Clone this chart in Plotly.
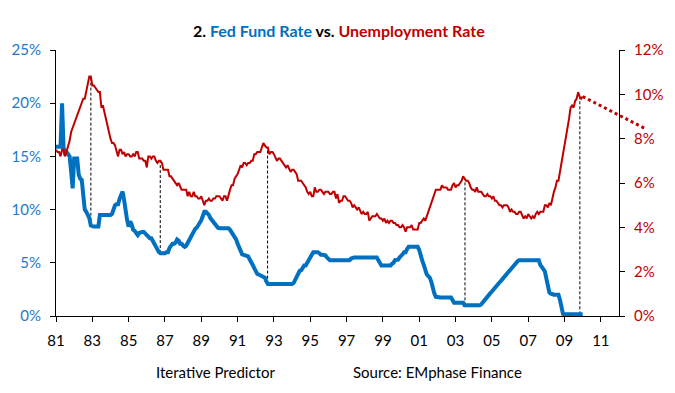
import numpy as np
import plotly.graph_objects as go

FONT = "Lato"
BLUE = "#0070C0"
RED = "#C00000"

# ---- data: monthly, Jan 1981 .. Jan 2010 ----
start_year = 1981
fed_funds = (
    [15.9, 15.9, 15.9, 15.9, 20.0, 15.8, 15.3, 15.4, 15.2, 15.0, 13.6, 12.0] +   # 1981
    [14.8, 14.8, 14.8, 13.3, 12.9, 12.8, 11.7, 10.0, 9.8, 9.5, 9.2, 8.5] +       # 1982
    [8.4, 8.4, 8.4, 8.4, 8.4, 9.5, 9.5, 9.5, 9.5, 9.5, 9.5, 9.5] +               # 1983
    [9.5, 9.6, 10.0, 10.4, 10.5, 10.5, 11.0, 11.5, 11.7, 10.9, 9.8, 9.0] +       # 1984
    [8.4, 8.9, 8.6, 8.1, 8.0, 7.7, 7.6, 7.8, 7.9, 7.9, 7.9, 7.8] +               # 1985
    [7.6, 7.45, 7.3, 7.3, 7.0, 6.8, 6.6, 6.3, 6.0, 5.9, 5.9, 5.9] +              # 1986
    [5.9, 6.0, 6.0, 6.4, 6.7, 6.8, 6.8, 6.9, 7.2, 7.1, 6.8, 6.8] +               # 1987
    [6.6, 6.5, 6.6, 6.9, 7.2, 7.5, 7.8, 8.1, 8.2, 8.3, 8.5, 8.7] +               # 1988
    [9.0, 9.4, 9.8, 9.8, 9.7, 9.5, 9.2, 9.0, 8.9, 8.7, 8.5, 8.3] +               # 1989
    [8.25, 8.25, 8.25, 8.25, 8.25, 8.25, 8.25, 8.1, 7.9, 7.75, 7.45, 7.2] +      # 1990
    [6.8, 6.4, 6.1, 5.8, 5.75, 5.7, 5.65, 5.6, 5.3, 5.1, 4.8, 4.5] +             # 1991
    [4.1, 3.95, 3.9, 3.85, 3.8, 3.75, 3.6, 3.25, 3.0, 3.0, 3.0, 3.0] +           # 1992
    [3.0, 3.0, 3.0, 3.0, 3.0, 3.0, 3.0, 3.0, 3.0, 3.0, 3.0, 3.0] +               # 1993
    [3.0, 3.1, 3.4, 3.6, 3.9, 4.25, 4.3, 4.6, 4.75, 4.75, 5.0, 5.4] +            # 1994
    [5.5, 5.9, 6.0, 6.0, 6.0, 6.0, 5.9, 5.75, 5.75, 5.75, 5.7, 5.5] +            # 1995
    [5.3, 5.25, 5.25, 5.25, 5.25, 5.25, 5.25, 5.25, 5.25, 5.25, 5.25, 5.25] +    # 1996
    [5.25, 5.25, 5.25, 5.4, 5.5, 5.5, 5.5, 5.5, 5.5, 5.5, 5.5, 5.5] +            # 1997
    [5.5, 5.5, 5.5, 5.5, 5.5, 5.5, 5.5, 5.5, 5.5, 5.25, 4.9, 4.75] +             # 1998
    [4.75, 4.75, 4.75, 4.75, 4.75, 4.75, 4.9, 5.0, 5.25, 5.25, 5.3, 5.5] +       # 1999
    [5.6, 5.8, 6.0, 6.0, 6.3, 6.5, 6.5, 6.5, 6.5, 6.5, 6.5, 6.5] +               # 2000
    [6.2, 5.5, 5.2, 4.8, 4.3, 3.9, 3.75, 3.6, 3.2, 2.5, 2.1, 1.8] +              # 2001
    [1.75, 1.75, 1.75, 1.75, 1.75, 1.75, 1.75, 1.75, 1.75, 1.75, 1.5, 1.25] +    # 2002
    [1.25, 1.25, 1.25, 1.25, 1.25, 1.25, 1.0, 1.0, 1.0, 1.0, 1.0, 1.0] +         # 2003
    [1.0, 1.0, 1.0, 1.0, 1.0, 1.1, 1.3, 1.45, 1.6, 1.8, 1.95, 2.15] +            # 2004
    [2.3, 2.5, 2.65, 2.8, 3.0, 3.15, 3.3, 3.5, 3.65, 3.8, 4.0, 4.15] +           # 2005
    [4.3, 4.5, 4.65, 4.8, 5.0, 5.15, 5.25, 5.25, 5.25, 5.25, 5.25, 5.25] +       # 2006
    [5.25, 5.25, 5.25, 5.25, 5.25, 5.25, 5.25, 5.25, 4.8, 4.5, 4.4, 4.2] +       # 2007
    [3.5, 3.0, 2.2, 2.1, 2.0, 2.0, 2.0, 2.0, 2.0, 1.5, 1.0, 0.2] +               # 2008
    [0.16, 0.16, 0.16, 0.16, 0.16, 0.16, 0.16, 0.16, 0.16, 0.16, 0.16, 0.16] +   # 2009
    [0.16]                                                                       # 2010
)
unemployment = (
    [7.5, 7.4, 7.4, 7.2, 7.5, 7.5, 7.2, 7.4, 7.6, 7.9, 8.3, 8.5] +
    [8.6, 8.9, 9.0, 9.3, 9.4, 9.6, 9.8, 9.8, 10.1, 10.4, 10.8, 10.8] +
    [10.4, 10.4, 10.3, 10.2, 10.1, 10.1, 9.4, 9.5, 9.2, 8.8, 8.5, 8.3] +
    [8.0, 7.8, 7.8, 7.7, 7.4, 7.2, 7.5, 7.5, 7.3, 7.4, 7.2, 7.3] +
    [7.3, 7.2, 7.2, 7.3, 7.2, 7.4, 7.4, 7.1, 7.1, 7.1, 7.0, 7.0] +
    [6.7, 7.2, 7.2, 7.1, 7.2, 7.2, 7.0, 6.9, 7.0, 7.0, 6.9, 6.6] +
    [6.6, 6.6, 6.6, 6.3, 6.3, 6.2, 6.1, 6.0, 5.9, 6.0, 5.8, 5.7] +
    [5.7, 5.7, 5.7, 5.4, 5.6, 5.4, 5.4, 5.6, 5.4, 5.4, 5.3, 5.3] +
    [5.4, 5.2, 5.0, 5.2, 5.2, 5.3, 5.2, 5.2, 5.3, 5.3, 5.4, 5.4] +
    [5.4, 5.3, 5.2, 5.4, 5.4, 5.2, 5.5, 5.7, 5.9, 5.9, 6.2, 6.3] +
    [6.4, 6.6, 6.8, 6.7, 6.9, 6.9, 6.8, 6.9, 6.9, 7.0, 7.0, 7.3] +
    [7.3, 7.4, 7.4, 7.4, 7.6, 7.8, 7.7, 7.6, 7.6, 7.3, 7.4, 7.4] +
    [7.3, 7.1, 7.0, 7.1, 7.1, 7.0, 6.9, 6.8, 6.7, 6.8, 6.6, 6.5] +
    [6.6, 6.6, 6.5, 6.4, 6.1, 6.1, 6.1, 6.0, 5.9, 5.8, 5.6, 5.5] +
    [5.6, 5.4, 5.4, 5.8, 5.6, 5.6, 5.7, 5.7, 5.6, 5.5, 5.6, 5.6] +
    [5.6, 5.5, 5.5, 5.6, 5.6, 5.3, 5.5, 5.1, 5.2, 5.2, 5.4, 5.4] +
    [5.3, 5.2, 5.2, 5.1, 4.9, 5.0, 4.9, 4.8, 4.9, 4.7, 4.6, 4.7] +
    [4.6, 4.6, 4.7, 4.3, 4.4, 4.5, 4.5, 4.5, 4.6, 4.5, 4.4, 4.4] +
    [4.3, 4.4, 4.2, 4.3, 4.2, 4.3, 4.3, 4.2, 4.2, 4.1, 4.1, 4.0] +
    [4.0, 4.1, 4.0, 3.8, 4.0, 4.0, 4.0, 4.1, 3.9, 3.9, 3.9, 3.9] +
    [4.2, 4.2, 4.3, 4.4, 4.3, 4.5, 4.6, 4.9, 5.0, 5.3, 5.5, 5.7] +
    [5.7, 5.7, 5.7, 5.9, 5.8, 5.8, 5.8, 5.7, 5.7, 5.7, 5.9, 6.0] +
    [5.8, 5.9, 5.9, 6.0, 6.1, 6.3, 6.2, 6.1, 6.1, 6.0, 5.8, 5.7] +
    [5.7, 5.6, 5.8, 5.6, 5.6, 5.6, 5.5, 5.4, 5.4, 5.5, 5.4, 5.4] +
    [5.3, 5.4, 5.2, 5.2, 5.1, 5.0, 5.0, 4.9, 5.0, 5.0, 5.0, 4.9] +
    [4.7, 4.8, 4.7, 4.7, 4.6, 4.6, 4.7, 4.7, 4.5, 4.4, 4.5, 4.4] +
    [4.6, 4.5, 4.4, 4.5, 4.4, 4.6, 4.7, 4.6, 4.7, 4.7, 4.7, 5.0] +
    [5.0, 4.9, 5.1, 5.0, 5.4, 5.6, 5.8, 6.1, 6.1, 6.5, 6.8, 7.3] +
    [7.6, 8.1, 8.5, 8.9, 9.4, 9.5, 9.4, 9.7, 9.8, 10.1, 9.9, 9.8] +
    [9.9]
)
# projection of unemployment (dotted)
proj_years = [2010.0, 2013.45]
proj_values = [9.9, 8.45]
# dates of dashed connectors (red turning point -> blue)
marker_years = [1982.92, 1986.74, 1992.65, 2003.52, 2009.845]

x_ticks = list(range(1981, 2012, 2))
x_ticklabels = ["81", "83", "85", "87", "89", "91", "93", "95", "97", "99",
                "01", "03", "05", "07", "09", "11"]
left_ticks = [0, 5, 10, 15, 20, 25]
right_ticks = [0, 2, 4, 6, 8, 10, 12]

X_RANGE = [1981, 2012]
LEFT_MAX = 25
RIGHT_MAX = 12

months = np.array([start_year + i / 12 for i in range(len(fed_funds))])

fig = go.Figure()

# dashed connectors (on left axis, red converted to left-axis units)
scale = LEFT_MAX / RIGHT_MAX
for yr in marker_years:
    b = float(np.interp(yr, months, fed_funds))
    r = float(np.interp(yr, months, unemployment)) * scale
    fig.add_trace(go.Scatter(x=[yr, yr], y=[b, r], mode="lines",
                             line=dict(color="black", width=1, dash="3px,2px"),
                             hoverinfo="skip", showlegend=False, yaxis="y"))

fig.add_trace(go.Scatter(x=months, y=unemployment, mode="lines", yaxis="y2",
                         line=dict(color=RED, width=2), showlegend=False,
                         name="Unemployment Rate"))
fig.add_trace(go.Scatter(x=months, y=fed_funds, mode="lines", yaxis="y",
                         line=dict(color=BLUE, width=4), showlegend=False,
                         name="Fed Fund Rate"))

# dotted projection, extends past the right axis
span = X_RANGE[1] - X_RANGE[0]
fig.add_shape(type="line", xref="paper", yref="y2",
              x0=(proj_years[0] - X_RANGE[0]) / span, y0=proj_values[0],
              x1=(proj_years[1] - X_RANGE[0]) / span, y1=proj_values[1],
              line=dict(color=RED, width=3, dash="dot"))

axis_common = dict(showgrid=False, zeroline=False, showline=True, linecolor="black",
                   linewidth=1, ticks="outside", ticklen=5, tickcolor="black",
                   tickwidth=1)

fig.update_layout(
    width=675, height=393,
    margin=dict(l=55, r=53, t=50, b=77),
    paper_bgcolor="white", plot_bgcolor="white",
    font=dict(family=FONT, size=15, color="black"),
    xaxis=dict(range=X_RANGE, tickvals=x_ticks, ticktext=x_ticklabels,
               tickfont=dict(size=15, color="black"), ticklabelstandoff=6,
               **axis_common),
    yaxis=dict(range=[0, LEFT_MAX], tickvals=left_ticks,
               ticktext=[f"{v}%" for v in left_ticks],
               tickfont=dict(size=15, color="#1F78C8"), ticklabelstandoff=6,
               **axis_common),
    yaxis2=dict(range=[0, RIGHT_MAX], tickvals=right_ticks,
                ticktext=[f"{v}%" for v in right_ticks],
                overlaying="y", side="right",
                tickfont=dict(size=15, color=RED), ticklabelstandoff=6,
                **axis_common),
    annotations=[
        dict(text=f"<b>2. <span style='color:{BLUE}'>Fed Fund Rate</span> vs. "
                  f"<span style='color:{RED}'>Unemployment Rate</span></b>",
             xref="paper", yref="paper", x=0.502, y=1.075,
             xanchor="center", yanchor="middle", showarrow=False,
             font=dict(size=16, color="black", family=FONT)),
        dict(text="Iterative Predictor", xref="paper", yref="paper",
             x=0.2836, y=-0.2094, xanchor="center", yanchor="middle",
             showarrow=False, font=dict(size=15, color="black", family=FONT)),
        dict(text="Source: EMphase Finance", xref="paper", yref="paper",
             x=0.6785, y=-0.2094, xanchor="center", yanchor="middle",
             showarrow=False, font=dict(size=15, color="black", family=FONT)),
    ],
)

# remove the browser's default page margin so the figure sits at the window origin
fig.write_html("out.html", config={"displayModeBar": False},
               post_script="document.body.style.margin='0px';")
